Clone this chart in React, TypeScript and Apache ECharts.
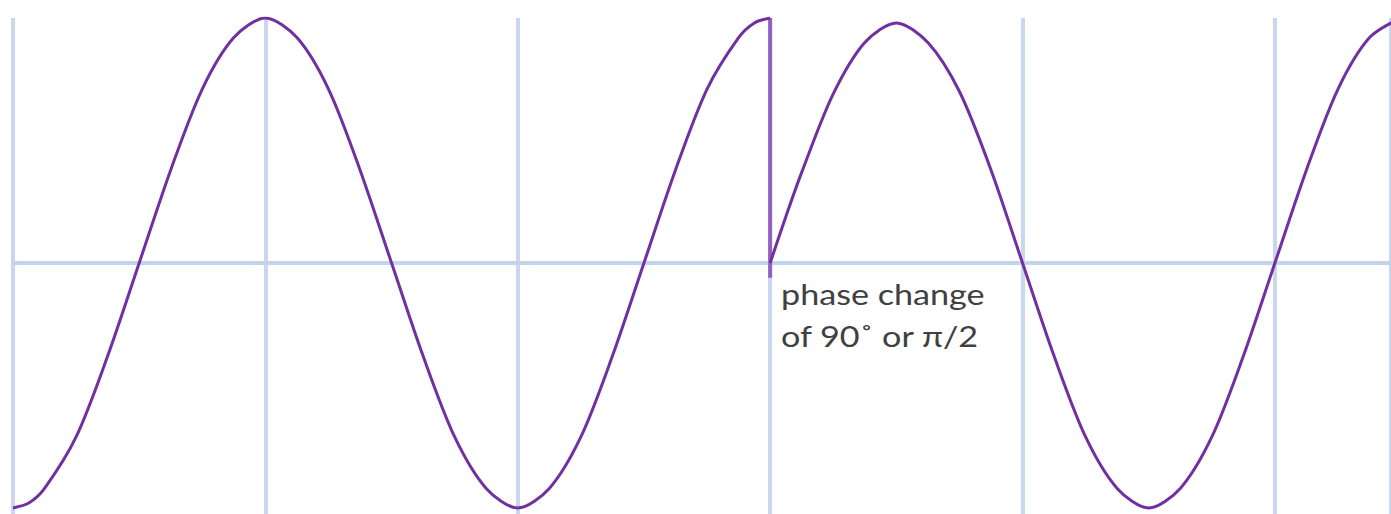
import React, { useEffect, useRef } from "react";
import * as echarts from "echarts";

// x in quarter-periods, y in amplitude units
const beforeX = [0, 0.125, 0.25, 0.5, 0.75, 1, 1.25, 1.5, 1.75, 2, 2.25, 2.5, 2.75, 3, 3.25, 3.5, 3.75, 4, 4.25, 4.5, 4.75, 5, 5.25, 5.5, 5.75, 5.875, 6];
const beforeY = [-1, -0.98, -0.92, -0.71, -0.38, 0, 0.38, 0.71, 0.92, 1, 0.92, 0.71, 0.38, 0, -0.38, -0.71, -0.92, -1, -0.92, -0.71, -0.38, 0, 0.38, 0.71, 0.92, 0.98, 1];
const afterX = [6, 6.125, 6.25, 6.5, 6.75, 7, 7.25, 7.5, 7.75, 8, 8.25, 8.5, 8.75, 9, 9.25, 9.5, 9.75, 10, 10.25, 10.5, 10.75, 11];
const afterY = [0, 0.19, 0.37, 0.69, 0.9, 0.98, 0.9, 0.7, 0.38, 0, -0.38, -0.71, -0.92, -1, -0.92, -0.71, -0.38, 0, 0.38, 0.71, 0.92, 1];
const jumpX = [6, 6];
const jumpY = [1, -0.06];
const labelLines = ["phase change", "of 90˚ or π/2"];

export default function App() {
  const ref = useRef<HTMLDivElement>(null);
  useEffect(() => {
    if (!ref.current) return;
    const chart = echarts.init(ref.current, null, { renderer: "svg" });
    const zip = (xs: number[], ys: number[]) => xs.map((x, i) => [x, ys[i]]);
    chart.setOption({
      animation: false,
      backgroundColor: "#ffffff",
      grid: { left: 13, top: 18, width: 1378, height: 496, containLabel: false },
      xAxis: {
        type: "value",
        min: 0,
        max: 10.92,
        interval: 2,
        axisLine: { show: true, onZero: true, lineStyle: { color: "#C3D4EE", width: 4 } },
        axisTick: { show: false },
        axisLabel: { show: false },
        splitLine: { show: true, lineStyle: { color: "#C8D7EF", width: 4 } },
      },
      yAxis: {
        type: "value",
        min: -1.0245,
        max: 1,
        axisLine: { show: false },
        axisTick: { show: false },
        axisLabel: { show: false },
        splitLine: { show: false },
      },
      series: [
        {
          type: "line",
          data: zip(jumpX, jumpY),
          symbol: "none",
          lineStyle: { color: "#9460C0", width: 4 },
          z: 3,
        },
        {
          type: "line",
          data: zip(beforeX, beforeY),
          smooth: 0.3,
          symbol: "none",
          lineStyle: { color: "#7030A0", width: 3 },
          z: 4,
        },
        {
          type: "line",
          data: zip(afterX, afterY),
          smooth: 0.3,
          symbol: "none",
          lineStyle: { color: "#7030A0", width: 3 },
          z: 4,
        },
      ],
      graphic: [
        {
          type: "text",
          x: 781,
          y: 273,
          scaleX: 1.22,
          style: {
            text: labelLines.join("\n"),
            fill: "#404040",
            font: '28px Lato, "Open Sans", sans-serif',
            lineHeight: 42,
          },
        },
      ],
    });
    return () => chart.dispose();
  }, []);
  return (
    <div
      ref={ref}
      style={{ position: "fixed", left: 0, top: 0, width: 1391, height: 514 }}
    />
  );
}
